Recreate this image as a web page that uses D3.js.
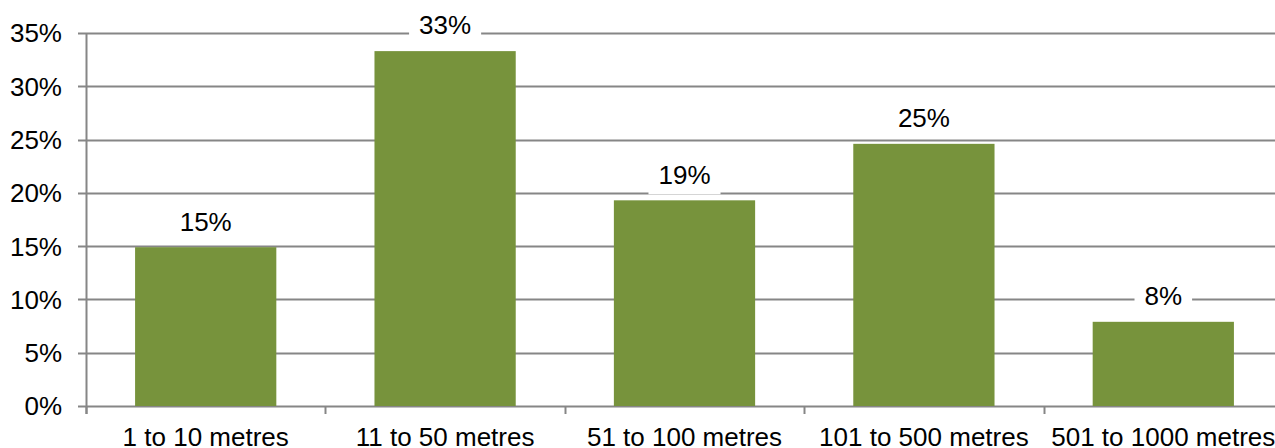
<!DOCTYPE html>
<html>
<head>
<meta charset="utf-8">
<script src="https://cdn.jsdelivr.net/npm/d3@7"></script>
<style>
  html, body { margin: 0; padding: 0; background: #fff; overflow: hidden; }
  svg { display: block; }
  text { font-family: "Liberation Sans", Arial, sans-serif; fill: #000; }
</style>
</head>
<body>
<svg id="chart" width="1275" height="448"></svg>
<script>
// Share of responses by distance band
const categories = ["1 to 10 metres", "11 to 50 metres", "51 to 100 metres", "101 to 500 metres", "501 to 1000 metres"];
const shares = [0.149, 0.333, 0.193, 0.246, 0.079];
const yTicks = [0, 0.05, 0.10, 0.15, 0.20, 0.25, 0.30, 0.35];

const width = 1275, height = 448;
const margin = { left: 86, top: 33, bottom: 42 };
const plotRight = 1283;
const fontSize = 26;

const svg = d3.select("#chart");

const x = d3.scaleBand()
  .domain(categories)
  .range([margin.left, plotRight])
  .padding(0);

const y = d3.scaleLinear()
  .domain([0, 0.35])
  .range([height - margin.bottom, margin.top]);

const pct = d3.format(".0%");
const gridColor = "#868686";

// horizontal gridlines with short outward ticks
svg.append("g")
  .selectAll("line")
  .data(yTicks)
  .join("line")
  .attr("x1", margin.left - 8)
  .attr("x2", plotRight)
  .attr("y1", d => Math.round(y(d)) + 0.5)
  .attr("y2", d => Math.round(y(d)) + 0.5)
  .attr("stroke", gridColor)
  .attr("stroke-width", 2);

// y tick labels
svg.append("g")
  .selectAll("text")
  .data(yTicks)
  .join("text")
  .attr("x", margin.left - 24)
  .attr("y", d => y(d))
  .attr("dy", "0.36em")
  .attr("text-anchor", "end")
  .style("font-size", fontSize + "px")
  .text(d => pct(d));

// vertical axis line
svg.append("line")
  .attr("x1", margin.left + 0.5).attr("x2", margin.left + 0.5)
  .attr("y1", y(0.35)).attr("y2", y(0) + 8)
  .attr("stroke", gridColor)
  .attr("stroke-width", 2);

// category boundary ticks below the baseline
const boundaries = categories.map(c => x(c)).concat([x(categories[categories.length - 1]) + x.bandwidth()]);
svg.append("g")
  .selectAll("line")
  .data(boundaries)
  .join("line")
  .attr("x1", d => Math.round(d) + 0.5)
  .attr("x2", d => Math.round(d) + 0.5)
  .attr("y1", y(0))
  .attr("y2", y(0) + 8)
  .attr("stroke", gridColor)
  .attr("stroke-width", 2);

// bars
const barFrac = 0.59;
const barW = x.bandwidth() * barFrac;
svg.append("g")
  .selectAll("rect")
  .data(categories)
  .join("rect")
  .attr("x", (c) => x(c) + (x.bandwidth() - barW) / 2)
  .attr("width", barW)
  .attr("y", (c, i) => y(shares[i]))
  .attr("height", (c, i) => y(0) - y(shares[i]))
  .attr("fill", "#77933C");

// value labels on white boxes
const labels = svg.append("g")
  .selectAll("g")
  .data(categories)
  .join("g")
  .attr("transform", (c, i) => `translate(${x(c) + x.bandwidth() / 2},${y(shares[i]) - 26})`);

labels.each(function (c, i) {
  const g = d3.select(this);
  const t = g.append("text")
    .attr("text-anchor", "middle")
    .attr("dy", "0.36em")
    .style("font-size", fontSize + "px")
    .text(pct(shares[i]));
  const bb = t.node().getBBox();
  g.insert("rect", "text")
    .attr("x", bb.x - 10)
    .attr("y", -20)
    .attr("width", bb.width + 20)
    .attr("height", 40)
    .attr("fill", "#fff");
});

// category labels
svg.append("g")
  .selectAll("text")
  .data(categories)
  .join("text")
  .attr("x", c => x(c) + x.bandwidth() / 2)
  .attr("y", 446)
  .attr("text-anchor", "middle")
  .style("font-size", fontSize + "px")
  .text(c => c);
</script>
</body>
</html>
